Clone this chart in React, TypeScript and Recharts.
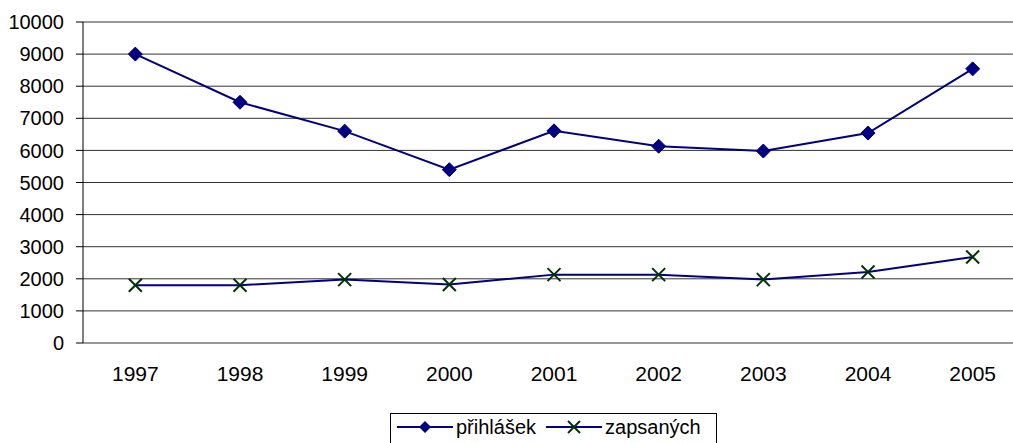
import { LineChart, Line, XAxis, YAxis, CartesianGrid } from 'recharts';

const years = ['1997', '1998', '1999', '2000', '2001', '2002', '2003', '2004', '2005'];
const prihlasek = [9000, 7500, 6600, 5400, 6610, 6130, 5980, 6540, 8540];
const zapsanych = [1800, 1800, 1975, 1820, 2130, 2130, 1975, 2210, 2680];
const yTicks = [0, 1000, 2000, 3000, 4000, 5000, 6000, 7000, 8000, 9000, 10000];
const boundaryTicks = [0, 1, 2, 3, 4, 5, 6, 7, 8, 9];

const data = years.map((year, i) => ({
    year,
    prihlasek: prihlasek[i],
    zapsanych: zapsanych[i],
}));

const NAVY = '#000080';
const GREEN = '#003300';
const FONT = '"Liberation Sans", Arial, sans-serif';

function DiamondDot(props: any) {
    const { cx, cy } = props;
    if (cx == null || cy == null) return null;
    const r = 7;
    return (
        <polygon
            points={`${cx},${cy - r} ${cx + r},${cy} ${cx},${cy + r} ${cx - r},${cy}`}
            fill={NAVY}
            stroke={NAVY}
        />
    );
}

function CrossDot(props: any) {
    const { cx, cy } = props;
    if (cx == null || cy == null) return null;
    const r = 6.5;
    return (
        <g stroke={GREEN} strokeWidth={2}>
            <line x1={cx - r} y1={cy - r} x2={cx + r} y2={cy + r} />
            <line x1={cx - r} y1={cy + r} x2={cx + r} y2={cy - r} />
        </g>
    );
}

function LegendBox() {
    return (
        <div
            style={{
                position: 'absolute',
                left: 390,
                top: 413,
                width: 327,
                height: 40,
                border: '1px solid #000',
                boxSizing: 'border-box',
                background: '#fff',
                fontFamily: FONT,
                fontSize: 20,
                color: '#000',
            }}
        >
            <div style={{ display: 'flex', alignItems: 'center', height: 26, paddingLeft: 6 }}>
                <svg width={56} height={20}>
                    <line x1={0} y1={10} x2={56} y2={10} stroke={NAVY} strokeWidth={2} />
                    <polygon points="28,4 34,10 28,16 22,10" fill={NAVY} />
                </svg>
                <span style={{ marginLeft: 3 }}>přihlášek</span>
                <svg width={56} height={20} style={{ marginLeft: 10 }}>
                    <line x1={0} y1={10} x2={56} y2={10} stroke={NAVY} strokeWidth={2} />
                    <g stroke={GREEN} strokeWidth={2}>
                        <line x1={22} y1={4} x2={34} y2={16} />
                        <line x1={22} y1={16} x2={34} y2={4} />
                    </g>
                </svg>
                <span style={{ marginLeft: 3 }}>zapsaných</span>
            </div>
        </div>
    );
}

export default function App() {
    return (
        <div
            style={{
                position: 'absolute',
                left: 0,
                top: 0,
                width: 1013,
                height: 443,
                overflow: 'hidden',
                background: '#fff',
                fontFamily: FONT,
            }}
        >
            <LineChart
                width={1045}
                height={443}
                data={data}
                margin={{ top: 22, right: 20, left: 8, bottom: 0 }}
            >
                <CartesianGrid horizontal vertical={false} stroke="#333" xAxisId="cat" />
                <XAxis
                    xAxisId="tk"
                    type="number"
                    domain={[0, 9]}
                    ticks={boundaryTicks}
                    allowDataOverflow
                    height={0}
                    tickSize={7}
                    tickFormatter={() => ''}
                    axisLine={{ stroke: '#000' }}
                    tickLine={{ stroke: '#000' }}
                />
                <XAxis
                    xAxisId="cat"
                    dataKey="year"
                    height={100}
                    padding={{ left: 52.33, right: 52.33 }}
                    axisLine={false}
                    tickLine={false}
                    tickSize={0}
                    tickMargin={23}
                    interval={0}
                    tick={{ fill: '#000', fontSize: 21, fontFamily: FONT }}
                />
                <YAxis
                    width={75}
                    domain={[0, 10000]}
                    ticks={yTicks}
                    interval={0}
                    tickSize={7}
                    tickMargin={12}
                    axisLine={{ stroke: '#000' }}
                    tickLine={{ stroke: '#000' }}
                    tick={{ fill: '#000', fontSize: 20, fontFamily: FONT }}
                />
                <Line
                    xAxisId="cat"
                    type="linear"
                    dataKey="prihlasek"
                    stroke={NAVY}
                    strokeWidth={2}
                    dot={<DiamondDot />}
                    activeDot={false}
                    isAnimationActive={false}
                />
                <Line
                    xAxisId="cat"
                    type="linear"
                    dataKey="zapsanych"
                    stroke={NAVY}
                    strokeWidth={2}
                    dot={<CrossDot />}
                    activeDot={false}
                    isAnimationActive={false}
                />
            </LineChart>
            <LegendBox />
        </div>
    );
}
